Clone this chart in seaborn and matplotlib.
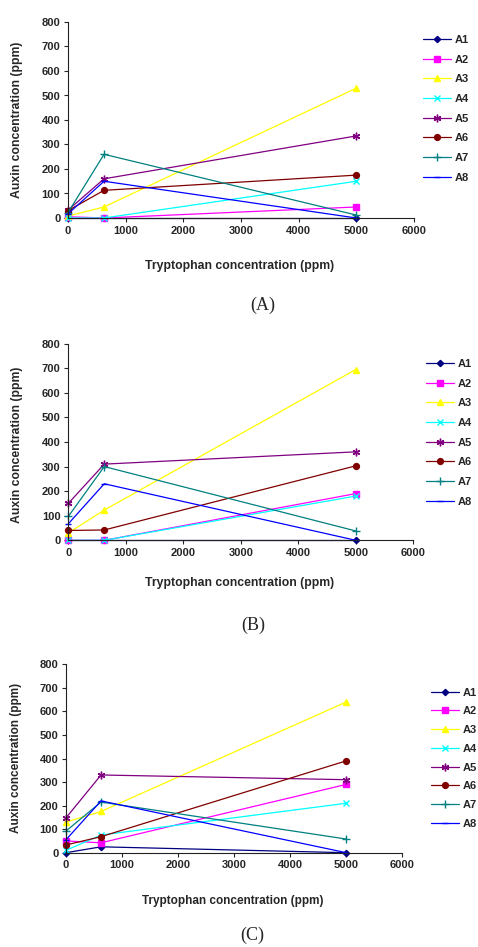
# Auxin production by strains A1-A8 at different tryptophan concentrations
import numpy as np
import pandas as pd
import matplotlib
matplotlib.use("Agg")
import matplotlib.pyplot as plt
import seaborn as sns

# Datos
tryptophan = [0, 625, 5000]
strains = ["A1", "A2", "A3", "A4", "A5", "A6", "A7", "A8"]

# Panel (A)
panel_a = {
    "A1": [0, 0, 0],
    "A2": [5, 0, 45],
    "A3": [8, 45, 530],
    "A4": [0, 0, 150],
    "A5": [32, 160, 335],
    "A6": [30, 113, 175],
    "A7": [22, 260, 12],
    "A8": [17, 150, 0],
}
# Panel (B)
panel_b = {
    "A1": [0, 0, 0],
    "A2": [0, 0, 190],
    "A3": [30, 123, 695],
    "A4": [0, 0, 180],
    "A5": [150, 310, 360],
    "A6": [40, 42, 303],
    "A7": [97, 300, 38],
    "A8": [67, 230, 0],
}
# Panel (C)
panel_c = {
    "A1": [0, 25, 0],
    "A2": [50, 42, 290],
    "A3": [130, 175, 640],
    "A4": [10, 75, 210],
    "A5": [148, 330, 310],
    "A6": [33, 68, 390],
    "A7": [92, 215, 58],
    "A8": [55, 220, 0],
}

colors = {"A1": "#000080", "A2": "#FF00FF", "A3": "#FFFF00", "A4": "#00FFFF",
          "A5": "#800080", "A6": "#800000", "A7": "#008080", "A8": "#0000FF"}
markers = {"A1": "D", "A2": "s", "A3": "^", "A4": "x",
           "A5": (6, 2, 0), "A6": "o", "A7": "+", "A8": "_"}
msizes = {"A1": 3.2, "A2": 4.2, "A3": 4.8, "A4": 4.5,
          "A5": 5.5, "A6": 4.2, "A7": 5.5, "A8": 4}

sns.set_theme(style="ticks")
plt.rcParams["font.family"] = ["Liberation Sans", "DejaVu Sans"]
plt.rcParams["font.weight"] = "bold"

W, H = 478, 947
fig = plt.figure(figsize=(W / 100, H / 100), dpi=100)

# (left, top, right, bottom) en pixeles, posicion de la leyenda, textos
layouts = [
    (panel_a, (68, 22, 414, 218), (422.7, 35, 19.6), (240, 266), (17, 120), (263, 305), "(A)", 8.8),
    (panel_b, (68.3, 343.7, 413.3, 540.3), (426, 359, 19.6), (240, 583), (17, 445), (253, 625), "(B)", 8.8),
    (panel_c, (66, 664.3, 402.3, 852.7), (431, 687.5, 18.7), (233, 901), (16, 758), (252, 935), "(C)", 8.5),
]

for data, (l, t, r, b), (lx, ly, lsp), xl, yl, pl, plabel, fs in layouts:
    ax = fig.add_axes([l / W, 1 - b / H, (r - l) / W, (b - t) / H])
    for name in strains:
        sns.lineplot(x=tryptophan, y=data[name], ax=ax, color=colors[name],
                     marker=markers[name], markersize=msizes[name],
                     markeredgecolor=colors[name], markeredgewidth=1,
                     linewidth=0.9, label=name, clip_on=False)
    ax.set_xlim(0, 6000)
    ax.set_ylim(0, 800)
    ax.set_xticks(np.arange(0, 6001, 1000))
    ax.set_yticks(np.arange(0, 801, 100))
    ax.tick_params(direction="out", length=3, width=0.8, labelsize=8, pad=2.5)
    for s in ["top", "right"]:
        ax.spines[s].set_visible(False)
    for s in ["left", "bottom"]:
        ax.spines[s].set_linewidth(0.8)
        ax.spines[s].set_color("#222222")
    ax.set_xlabel("")
    ax.set_ylabel("")
    ax.legend(loc="upper left", bbox_to_anchor=(lx / W, 1 - ly / H),
              bbox_transform=fig.transFigure, frameon=False, borderpad=0,
              borderaxespad=0, handlelength=2.55, handletextpad=0.3,
              labelspacing=(lsp - 9.95) / 11.1,
              prop={"size": 8, "weight": "bold"})
    fig.text(xl[0] / W, 1 - xl[1] / H, "Tryptophan concentration (ppm)",
             ha="center", va="center", fontsize=fs, fontweight="bold")
    fig.text(yl[0] / W, 1 - yl[1] / H, "Auxin concentration (ppm)",
             ha="center", va="center", rotation=90, fontsize=fs, fontweight="bold")
    fig.text(pl[0] / W, 1 - pl[1] / H, plabel, ha="center", va="center",
             fontsize=13, family="Liberation Serif", fontweight="normal")

plt.savefig("out.png", dpi=100)
